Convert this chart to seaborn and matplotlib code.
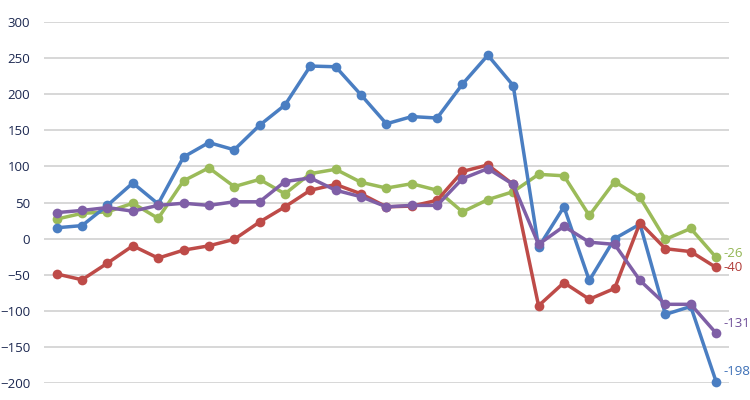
import pandas as pd
import matplotlib.pyplot as plt
import seaborn as sns

# Values (27 periods, 4 series)
periods = list(range(27))
blue = [15, 18, 46, 77, 48, 113, 133, 123, 157, 185, 239, 238, 199, 159, 169, 167,
        214, 254, 212, -12, 44, -58, 0, 20, -105, -94, -198]
red = [-49, -57, -34, -10, -27, -16, -10, -1, 23, 44, 67, 75, 62, 44, 45, 53,
       93, 102, 75, -93, -61, -84, -69, 22, -14, -18, -40]
green = [27, 35, 37, 49, 28, 80, 98, 72, 82, 62, 90, 96, 78, 70, 76, 67,
         37, 54, 65, 89, 87, 32, 79, 57, -1, 14, -26]
purple = [36, 39, 43, 38, 46, 49, 46, 51, 51, 79, 84, 67, 58, 44, 46, 46,
          83, 97, 75, -8, 17, -5, -8, -58, -91, -91, -131]

# drawing order: later series sit on top
series_names = ["green", "blue", "red", "purple"]
series_values = [green, blue, red, purple]
colors = {"blue": "#4A7EC2", "red": "#BE4B48", "green": "#9BBB59", "purple": "#7F5FA6"}
label_colors = {"blue": "#3C6FB6", "red": "#B03A37", "green": "#92B552", "purple": "#6E4F98"}

df = pd.concat(
    [pd.DataFrame({"period": periods, "value": v, "series": n})
     for n, v in zip(series_names, series_values)],
    ignore_index=True,
)

sns.set_style("white")
plt.rcParams["font.family"] = ["Open Sans", "DejaVu Sans"]

fig = plt.figure(figsize=(7.5, 4), dpi=100)
ax = fig.add_axes([0.0587, 0.0425, 0.913, 0.9025])

sns.lineplot(
    data=df, x="period", y="value", hue="series", palette=colors,
    marker="o", markersize=7, markeredgewidth=0, linewidth=2.5,
    legend=False, ax=ax, clip_on=False, sort=False,
)

ax.set_xlim(-0.5, len(periods) - 0.5)
ax.set_ylim(-200, 300)
ax.set_yticks(range(-200, 301, 50))
ax.set_xticks([])
ax.yaxis.grid(True, color="#D4D4D4", linewidth=1.3)
ax.set_axisbelow(True)
for s in ax.spines.values():
    s.set_visible(False)
ax.tick_params(axis="y", length=0, pad=10, labelsize=9.5, labelcolor="#1B2750")
ax.set_xlabel("")
ax.set_ylabel("")

# End-of-line labels
offsets = {"green": (5, 3), "red": (5, 0), "purple": (5, 7), "blue": (5, 7)}
for n, v in zip(series_names, series_values):
    ax.annotate(f"{v[-1]}", (periods[-1], v[-1]), xytext=offsets[n],
                textcoords="offset points", ha="left", va="center",
                fontsize=9.5, color=label_colors[n], annotation_clip=False)

fig.savefig("out.png", dpi=100)
